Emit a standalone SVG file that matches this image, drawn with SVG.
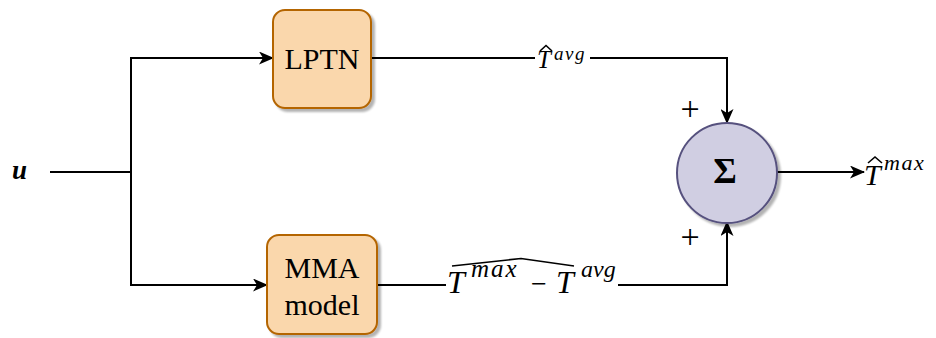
<svg xmlns="http://www.w3.org/2000/svg" width="936" height="338" viewBox="0 0 936 338">
<defs>
<marker id="arr" markerWidth="15" markerHeight="13" refX="14" refY="6.5" orient="auto" markerUnits="userSpaceOnUse">
<path d="M0,0 L15,6.5 L0,13 L4,6.5 Z" fill="#000"/>
</marker>
<filter id="sh" x="-20%" y="-20%" width="150%" height="150%">
<feGaussianBlur in="SourceAlpha" stdDeviation="1"/>
<feOffset dx="3" dy="3" result="o"/>
<feComponentTransfer><feFuncA type="linear" slope="0.3"/></feComponentTransfer>
<feMerge><feMergeNode/><feMergeNode in="SourceGraphic"/></feMerge>
</filter>
</defs>
<style>
.box{fill:#fad7ac;stroke:#b46504;stroke-width:2;filter:url(#sh)}
.sum{fill:#d0cee2;stroke:#56517e;stroke-width:2;filter:url(#sh)}
.lbl{font-family:"Liberation Serif",serif;font-size:30px;fill:#000;text-anchor:middle}
.m{font-family:"Liberation Serif",serif;font-style:italic;fill:#000}
.r{font-family:"Liberation Serif",serif;fill:#000}
.ln{fill:none;stroke:#000;stroke-width:2}
.hat{fill:none;stroke:#000;stroke-width:1.6}
</style>
<rect width="936" height="338" fill="#fff"/>
<g id="connectors">
<path class="ln" d="M50,172 H131"/>
<path class="ln" d="M131,172 V58 H273" marker-end="url(#arr)"/>
<path class="ln" d="M131,172 V285 H267" marker-end="url(#arr)"/>
<path class="ln" d="M371,58 H727 V123" marker-end="url(#arr)"/>
<path class="ln" d="M377,285 H727 V222" marker-end="url(#arr)"/>
<path class="ln" d="M777,172 H864" marker-end="url(#arr)"/>
</g>
<g id="label-avg">
<rect x="535" y="42" width="55" height="28" fill="#fff"/>
<text class="m" x="537" y="68" font-size="25">T</text>
<path class="hat" d="M540,51 L546,45.5 L552,51"/>
<text class="m" x="554" y="60" font-size="19" letter-spacing="1.5">avg</text>
</g>
<g id="label-diff">
<rect x="446" y="254" width="172" height="44" fill="#fff"/>
<path class="hat" d="M452,266 L521,258.5 L574,266"/>
<text class="m" x="447" y="293" font-size="32">T</text>
<text class="m" x="471" y="277" font-size="25" letter-spacing="2">max</text>
<text class="r" x="539" y="293" font-size="28" text-anchor="middle">−</text>
<text class="m" x="556" y="293" font-size="32">T</text>
<text class="m" x="581" y="277" font-size="24">avg</text>
</g>
<g id="input">
<text class="m" x="12" y="179" font-weight="bold" font-size="27">u</text>
</g>
<g id="lptn">
<rect class="box" x="273" y="10" width="98" height="98" rx="12"/>
<text class="lbl" x="322" y="69">LPTN</text>
</g>
<g id="mma">
<rect class="box" x="267" y="235" width="110" height="99" rx="12"/>
<text class="lbl" x="322" y="278">MMA</text>
<text class="lbl" x="322" y="315">model</text>
</g>
<g id="sum">
<circle class="sum" cx="727" cy="173" r="50"/>
<text class="r" x="725" y="183" font-size="36" font-weight="bold" text-anchor="middle">Σ</text>
</g>
<g id="plus">
<text class="r" x="690" y="120" font-size="34" text-anchor="middle">+</text>
<text class="r" x="690" y="248" font-size="34" text-anchor="middle">+</text>
</g>
<g id="output">
<text class="m" x="864" y="185" font-size="30">T</text>
<path class="hat" d="M868,163 L875,157 L882,163"/>
<text class="m" x="884" y="170" font-size="22" letter-spacing="1.5">max</text>
</g>
</svg>
